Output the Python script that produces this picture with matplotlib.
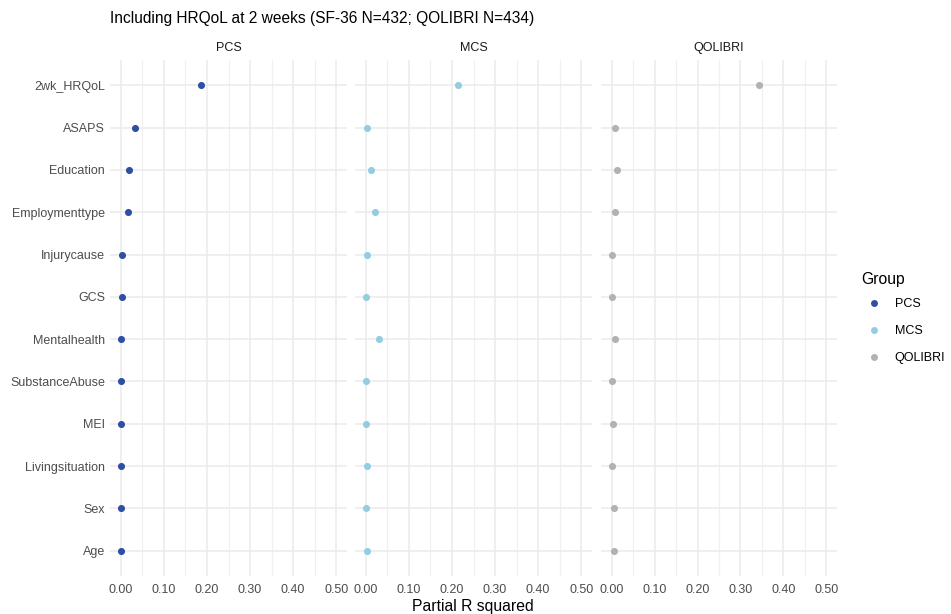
import numpy as np
import matplotlib
matplotlib.use("Agg")
import matplotlib.pyplot as plt
from matplotlib.lines import Line2D

plt.rcParams['font.family'] = ['Liberation Sans', 'DejaVu Sans']

predictors = ['2wk_HRQoL', 'ASAPS', 'Education', 'Employmenttype', 'Injurycause', 'GCS',
              'Mentalhealth', 'SubstanceAbuse', 'MEI', 'Livingsituation', 'Sex', 'Age']
groups = ['PCS', 'MCS', 'QOLIBRI']

pcs = [0.187, 0.032, 0.020, 0.017, 0.003, 0.003, 0.001, 0.001, 0.001, 0.001, 0.001, 0.001]
mcs = [0.215, 0.002, 0.012, 0.021, 0.004, 0.001, 0.030, 0.001, 0.000, 0.002, 0.000, 0.003]
qolibri = [0.343, 0.008, 0.013, 0.007, 0.001, 0.000, 0.008, 0.000, 0.002, 0.000, 0.005, 0.005]

colors = {'PCS': '#2f4fa6', 'MCS': '#92cde2', 'QOLIBRI': '#b2b2b4'}
values = {'PCS': pcs, 'MCS': mcs, 'QOLIBRI': qolibri}

xticks = [0.0, 0.1, 0.2, 0.3, 0.4, 0.5]
xticklabels = ['0.00', '0.10', '0.20', '0.30', '0.40', '0.50']

W, H = 951, 614
fig = plt.figure(figsize=(W / 100, H / 100), dpi=100)

panel_x = [(110, 347), (355, 592), (601, 837)]
top, bottom = 60, 576

ypos = np.arange(len(predictors))
for i, g in enumerate(groups):
    x0, x1 = panel_x[i]
    ax = fig.add_axes([x0 / W, 1 - bottom / H, (x1 - x0) / W, (bottom - top) / H])
    ax.set_xlim(-0.025, 0.525)
    ax.set_ylim(len(predictors) - 0.4, -0.6)
    ax.set_xticks(xticks)
    ax.set_xticklabels(xticklabels)
    ax.set_xticks([0.05, 0.15, 0.25, 0.35, 0.45], minor=True)
    ax.set_yticks(ypos)
    if i == 0:
        ax.set_yticklabels(predictors)
    else:
        ax.set_yticklabels([])
    ax.grid(True, which='major', color='#ebebeb', linewidth=1.1)
    ax.grid(True, which='minor', axis='x', color='#f0f0f0', linewidth=0.9)
    ax.set_axisbelow(True)
    for s in ax.spines.values():
        s.set_visible(False)
    ax.tick_params(which='both', length=0, labelsize=9, labelcolor='#4d4d4d')
    ax.tick_params(axis='x', pad=6)
    ax.scatter(values[g], ypos, s=26, color=colors[g], zorder=3, linewidths=0)
    ax.set_title(g, fontsize=9, color='#1a1a1a', pad=6.5)

fig.text(110 / W, 1 - 18 / H, 'Including HRQoL at 2 weeks (SF-36 N=432; QOLIBRI N=434)',
         fontsize=11.2, ha='left', va='center')
fig.text(473 / W, 1 - 606 / H, 'Partial R squared', fontsize=11.3, ha='center', va='center')

handles = [Line2D([], [], marker='o', linestyle='', markersize=5, markeredgewidth=0,
                  color=colors[g]) for g in groups]
leg = fig.legend(handles, groups, title='Group', loc='upper left',
                 bbox_to_anchor=(861 / W, 1 - 272 / H), frameon=False, fontsize=9,
                 title_fontsize=11.3, handletextpad=0.7, labelspacing=1.2, borderaxespad=0,
                 borderpad=0)
leg._legend_box.align = 'left'
leg._legend_box.sep = 8

fig.savefig('out.png', dpi=100)
